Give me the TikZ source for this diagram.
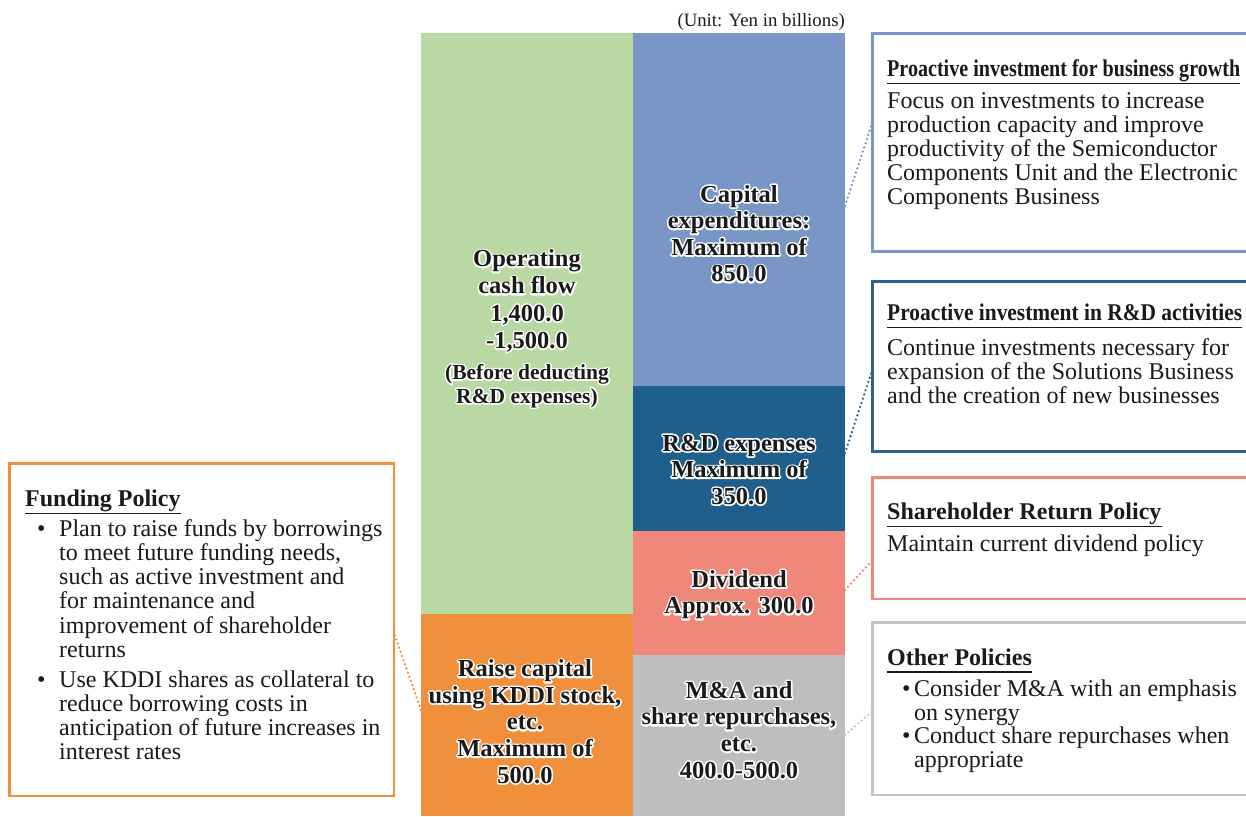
\documentclass[tikz,border=0pt]{standalone}
\usepackage{fontspec}
\setmainfont{Liberation Serif}
\usetikzlibrary{calc}
\definecolor{cgreen}{HTML}{BAD8A3}
\definecolor{cblue}{HTML}{7A96C6}
\definecolor{cdblue}{HTML}{1F5F8B}
\definecolor{cdbord}{HTML}{2A6590}
\definecolor{csalmon}{HTML}{F0877B}
\definecolor{corange}{HTML}{F0903D}
\definecolor{cgray}{HTML}{BEBEBE}
\definecolor{cgrayb}{HTML}{C4C4C4}
\definecolor{ctext}{HTML}{1A1A1A}
% white halo: a stroked white copy under the normal text
\newcommand\hl[1]{\leavevmode\rlap{\special{pdf:literal 1 Tr 3.2 w 1 j 1 J 1 1 1 RG}#1\special{pdf:literal 0 Tr 1 w 0 j 0 J 0 0 0 RG}}#1}
\tikzset{
  col/.style={inner sep=0pt, outer sep=0pt, anchor=north west},
  pbox/.style={inner sep=0pt, outer sep=0pt, anchor=north west, line width=2.6pt, fill=white},
  lab/.style={inner sep=0pt, anchor=base, text=ctext, font=\bfseries\fontsize{24.5}{26.6}\selectfont},
  labsmall/.style={lab, font=\bfseries\fontsize{21.5}{23.7}\selectfont},
  hdr/.style={inner sep=0pt, anchor=base west, text=ctext, font=\bfseries\fontsize{24}{24}\selectfont},
  body/.style={inner sep=0pt, anchor=base west, text=ctext, font=\fontsize{24}{24.2}\selectfont},
  uline/.style={line width=1.2pt, draw=ctext},
  conn/.style={line width=2.6pt, line cap=round, dash pattern=on 0pt off 4.4pt}
}
\begin{document}
\begin{tikzpicture}[x=1pt,y=-1pt]
\useasboundingbox (0,0) rectangle (1246,816);

% unit label
\node[inner sep=0pt, anchor=base east, text=ctext, font=\fontsize{18.8}{20}\selectfont] (unit) at (845,26.5) {(Unit: Yen in billions)};

% columns
\node[col, fill=cgreen, minimum width=212, minimum height=581] (ocf) at (421,33) {};
\node[col, fill=corange, minimum width=212, minimum height=202] (raise) at (421,614) {};
\node[col, fill=cblue, minimum width=212, minimum height=353] (capex) at (633,33) {};
\node[col, fill=cdblue, minimum width=212, minimum height=145] (rnd) at (633,386) {};
\node[col, fill=csalmon, minimum width=212, minimum height=124] (div) at (633,531) {};
\node[col, fill=cgray, minimum width=212, minimum height=161] (mna) at (633,655) {};

% column labels
\node[lab] (ocfl) at (527,266.7) {\begin{tabular}[t]{@{}c@{}}\hl{Operating}\\[0.6pt]\hl{cash flow}\\[0.6pt]\hl{1,400.0}\\[0.6pt]\hl{-1,500.0}\end{tabular}};
\node[labsmall] (ocfl2) at (527,379.3) {\begin{tabular}[t]{@{}c@{}}\hl{(Before deducting}\\\hl{R\&D expenses)}\end{tabular}};
\node[lab] (capexl) at (739,202) {\begin{tabular}[t]{@{}c@{}}\hl{Capital}\\\hl{expenditures:}\\\hl{Maximum of}\\\hl{850.0}\end{tabular}};
\node[lab] (rndl) at (739,451) {\begin{tabular}[t]{@{}c@{}}\hl{R\&D expenses}\\\hl{Maximum of}\\\hl{350.0}\end{tabular}};
\node[lab] (divl) at (739,587.3) {\begin{tabular}[t]{@{}c@{}}\hl{Dividend}\\\hl{Approx. 300.0}\end{tabular}};
\node[lab] (raisel) at (525,676.7) {\begin{tabular}[t]{@{}c@{}}\hl{Raise capital}\\\hl{using KDDI stock,}\\\hl{etc.}\\\hl{Maximum of}\\\hl{500.0}\end{tabular}};
\node[lab] (mnal) at (739,698.3) {\begin{tabular}[t]{@{}c@{}}\hl{M\&A and}\\\hl{share repurchases,}\\\hl{etc.}\\\hl{400.0-500.0}\end{tabular}};

% right boxes
\node[pbox, draw=cblue, minimum width=384, minimum height=218] (b1) at (872.5,33.5) {};
\node[pbox, draw=cdbord, minimum width=384, minimum height=170.5] (b2) at (872.5,281.2) {};
\node[pbox, draw=csalmon, minimum width=384, minimum height=121.5] (b3) at (872.5,477.5) {};
\node[pbox, draw=cgrayb, minimum width=384, minimum height=172.5] (b4) at (872.5,622.5) {};
% left box
\node[pbox, draw=corange, minimum width=384.5, minimum height=332.5] (fp) at (9.5,463.3) {};

% box 1
\node[hdr] (h1) at (887,76.7) {\resizebox{353pt}{\height}{Proactive investment for business growth}};
\draw[uline] ($(h1.base west)+(0,7)$) -- ($(h1.base east)+(0,7)$);
\node[body] (t1) at (887,108) {\begin{tabular}[t]{@{}l@{}}Focus on investments to increase\\production capacity and improve\\productivity of the Semiconductor\\Components Unit and the Electronic\\Components Business\end{tabular}};

% box 2
\node[hdr] (h2) at (887,320.7) {\resizebox{355pt}{\height}{Proactive investment in R\&D activities}};
\draw[uline] ($(h2.base west)+(0,7)$) -- ($(h2.base east)+(0,7)$);
\node[body] (t2) at (887,355) {\begin{tabular}[t]{@{}l@{}}Continue investments necessary for\\expansion of the Solutions Business\\and the creation of new businesses\end{tabular}};

% box 3
\node[hdr] (h3) at (887,519.3) {Shareholder Return Policy};
\draw[uline] ($(h3.base west)+(0,7.5)$) -- ($(h3.base east)+(0,7.5)$);
\node[body] (t3) at (887,551.7) {Maintain current dividend policy};

% box 4
\node[hdr] (h4) at (887,665) {Other Policies};
\draw[uline] ($(h4.base west)+(0,7)$) -- ($(h4.base east)+(0,7)$);
\node[body, font=\fontsize{24}{23.4}\selectfont] (t4) at (902,696.7) {\begin{tabular}[t]{@{}l@{}l@{}}\makebox[12pt][l]{\textbullet}&Consider M\&A with an emphasis\\&on synergy\\\textbullet&Conduct share repurchases when\\&appropriate\end{tabular}};

% funding box
\node[hdr] (h5) at (25,506.7) {Funding Policy};
\draw[uline] ($(h5.base west)+(0,7)$) -- ($(h5.base east)+(0,7)$);
\node[body, font=\fontsize{24}{24}\selectfont] (t5) at (37,536.7) {\begin{tabular}[t]{@{}l@{}l@{}}\makebox[22pt][l]{\textbullet}&Plan to raise funds by borrowings\\&to meet future funding needs,\\&such as active investment and\\&for maintenance and\\&improvement of shareholder\\&returns\\[6pt]\textbullet&Use KDDI shares as collateral to\\&reduce borrowing costs in\\&anticipation of future increases in\\&interest rates\end{tabular}};

% connectors
\coordinate (k1a) at ($(capex.north east)!0.49!(capex.south east)$);
\coordinate (k1b) at ($(b1.north west)!0.406!(b1.south west)$);
\draw[conn, draw=cblue] (k1a) -- (k1b);
\coordinate (k2a) at ($(rnd.north east)!0.462!(rnd.south east)$);
\coordinate (k2b) at ($(b2.north west)!0.516!(b2.south west)$);
\draw[conn, draw=cdbord] (k2a) -- (k2b);
\coordinate (k3a) at ($(div.north east)!0.476!(div.south east)$);
\coordinate (k3b) at ($(b3.north west)!0.68!(b3.south west)$);
\draw[conn, draw=csalmon] (k3a) -- (k3b);
\coordinate (k4a) at ($(mna.north east)!0.497!(mna.south east)$);
\coordinate (k4b) at ($(b4.north west)!0.514!(b4.south west)$);
\draw[conn, draw=cgrayb] (k4a) -- (k4b);
\coordinate (k5a) at ($(raise.north west)!0.475!(raise.south west)$);
\coordinate (k5b) at ($(fp.north east)!0.51!(fp.south east)$);
\draw[conn, draw=corange] (k5a) -- (k5b);
\end{tikzpicture}
\end{document}
